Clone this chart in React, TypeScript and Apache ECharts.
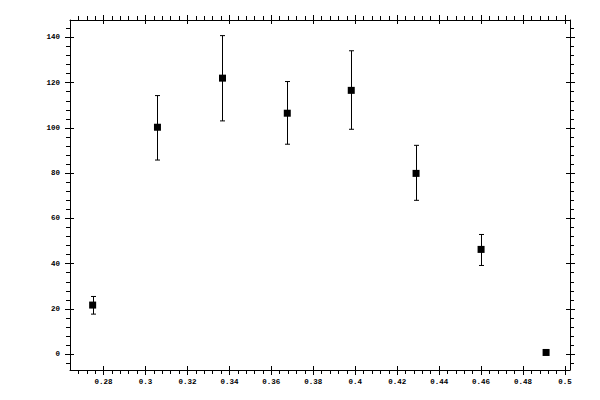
import React, { useEffect, useRef } from "react";
import * as echarts from "echarts";

const xValues = [0.2748, 0.3057, 0.3367, 0.3676, 0.3981, 0.429, 0.46, 0.491];
const yValues = [21.7, 100.3, 122.0, 106.5, 116.6, 79.9, 46.3, 0.75];
const yLow = [17.7, 85.8, 103.1, 92.8, 99.4, 68.0, 39.2, 0.75];
const yHigh = [25.5, 114.3, 140.8, 120.5, 134.1, 92.3, 52.9, 0.75];

const xMajorTicks = [0.28, 0.3, 0.32, 0.34, 0.36, 0.38, 0.4, 0.42, 0.44, 0.46, 0.48, 0.5];
const xTickLabels = ["0.28", "0.3", "0.32", "0.34", "0.36", "0.38", "0.4", "0.42", "0.44", "0.46", "0.48", "0.5"];
const yMajorTicks = [0, 20, 40, 60, 80, 100, 120, 140];
const yTickLabels = ["0", "20", "40", "60", "80", "100", "120", "140"];

const X_MIN = 0.264;
const X_MAX = 0.5024;
const Y_MIN = -7;
const Y_MAX = 147.7;

// minor tick positions (every 0.004 on x, every 4 on y), excluding majors
const xMinorTicks: number[] = [];
for (let k = 67; k <= 125; k++) {
  if (k % 5 !== 0) xMinorTicks.push(Math.round(k * 4) / 1000);
}
const yMinorTicks: number[] = [];
for (let k = -1; k <= 36; k++) {
  if (k % 5 !== 0) yMinorTicks.push(k * 4);
}

const FONT = {
  fontFamily: "Liberation Mono",
  fontSize: 7.5,
  fontWeight: "bold" as const,
  color: "#000",
};

function xAxisDef(position: "top" | "bottom", values: number[], inside: boolean, length: number, showLine: boolean, showLabel: boolean) {
  return {
    type: "value",
    position,
    min: X_MIN,
    max: X_MAX,
    axisLine: { show: showLine, onZero: false, lineStyle: { color: "#000", width: 1 } },
    axisTick: { show: true, customValues: values, inside, length, lineStyle: { color: "#000", width: 1 } },
    axisLabel: showLabel
      ? {
          show: true,
          customValues: xMajorTicks,
          margin: 8,
          ...FONT,
          formatter: (v: number) => {
            const i = xMajorTicks.findIndex((t) => Math.abs(t - v) < 1e-9);
            return i >= 0 ? xTickLabels[i] : "";
          },
        }
      : { show: false },
    splitLine: { show: false },
    minorTick: { show: false },
  };
}

function yAxisDef(position: "left" | "right", values: number[], inside: boolean, length: number, showLine: boolean, showLabel: boolean) {
  return {
    type: "value",
    position,
    min: Y_MIN,
    max: Y_MAX,
    axisLine: { show: showLine, onZero: false, lineStyle: { color: "#000", width: 1 } },
    axisTick: { show: true, customValues: values, inside, length, lineStyle: { color: "#000", width: 1 } },
    axisLabel: showLabel
      ? {
          show: true,
          customValues: yMajorTicks,
          margin: 10,
          ...FONT,
          formatter: (v: number) => {
            const i = yMajorTicks.findIndex((t) => Math.abs(t - v) < 1e-9);
            return i >= 0 ? yTickLabels[i] : "";
          },
        }
      : { show: false },
    splitLine: { show: false },
    minorTick: { show: false },
  };
}

export default function App() {
  const ref = useRef<HTMLDivElement>(null);

  useEffect(() => {
    if (!ref.current) return;
    const chart = echarts.init(ref.current, undefined, { renderer: "svg" });

    const scatterData = xValues.map((x, i) => [x, yValues[i]]);
    const errData = xValues.map((x, i) => [x, yValues[i], yLow[i], yHigh[i]]);

    chart.setOption({
      animation: false,
      backgroundColor: "#fff",
      grid: { left: 70, right: 30, top: 20, bottom: 30, containLabel: false },
      xAxis: [
        xAxisDef("bottom", xMajorTicks, false, 5, true, true),
        xAxisDef("bottom", xMajorTicks, true, 4, false, false),
        xAxisDef("bottom", xMinorTicks, false, 4, false, false),
        xAxisDef("top", xMajorTicks, false, 5, true, false),
        xAxisDef("top", xMajorTicks, true, 4, false, false),
        xAxisDef("top", xMinorTicks, false, 4, false, false),
      ],
      yAxis: [
        yAxisDef("left", yMajorTicks, false, 5, true, true),
        yAxisDef("left", yMajorTicks, true, 4, false, false),
        yAxisDef("left", yMinorTicks, false, 4, false, false),
        yAxisDef("right", yMajorTicks, false, 5, true, false),
        yAxisDef("right", yMajorTicks, true, 4, false, false),
        yAxisDef("right", yMinorTicks, false, 4, false, false),
      ],
      series: [
        {
          type: "custom",
          xAxisIndex: 0,
          yAxisIndex: 0,
          data: errData,
          encode: { x: 0, y: [2, 3] },
          silent: true,
          renderItem: (params: any, api: any) => {
            const x = api.value(0);
            const lo = api.value(2);
            const hi = api.value(3);
            const pLo = api.coord([x, lo]);
            const pHi = api.coord([x, hi]);
            const px = Math.round(pLo[0]) + 0.5;
            const w = 2.5;
            const style = { stroke: "#000", lineWidth: 1 };
            if (Math.abs(pLo[1] - pHi[1]) < 1) return { type: "group", children: [] };
            return {
              type: "group",
              children: [
                { type: "line", shape: { x1: px, y1: pHi[1], x2: px, y2: pLo[1] }, style },
                { type: "line", shape: { x1: px - w, y1: pHi[1], x2: px + w, y2: pHi[1] }, style },
                { type: "line", shape: { x1: px - w, y1: pLo[1], x2: px + w, y2: pLo[1] }, style },
              ],
            };
          },
          z: 2,
        },
        {
          type: "scatter",
          xAxisIndex: 0,
          yAxisIndex: 0,
          data: scatterData,
          symbol: "rect",
          symbolSize: 7,
          itemStyle: { color: "#000", opacity: 1 },
          silent: true,
          z: 3,
        },
      ],
    });

    return () => chart.dispose();
  }, []);

  return (
    <div
      ref={ref}
      style={{ position: "fixed", left: 0, top: 0, width: 600, height: 400, background: "#fff" }}
    />
  );
}
